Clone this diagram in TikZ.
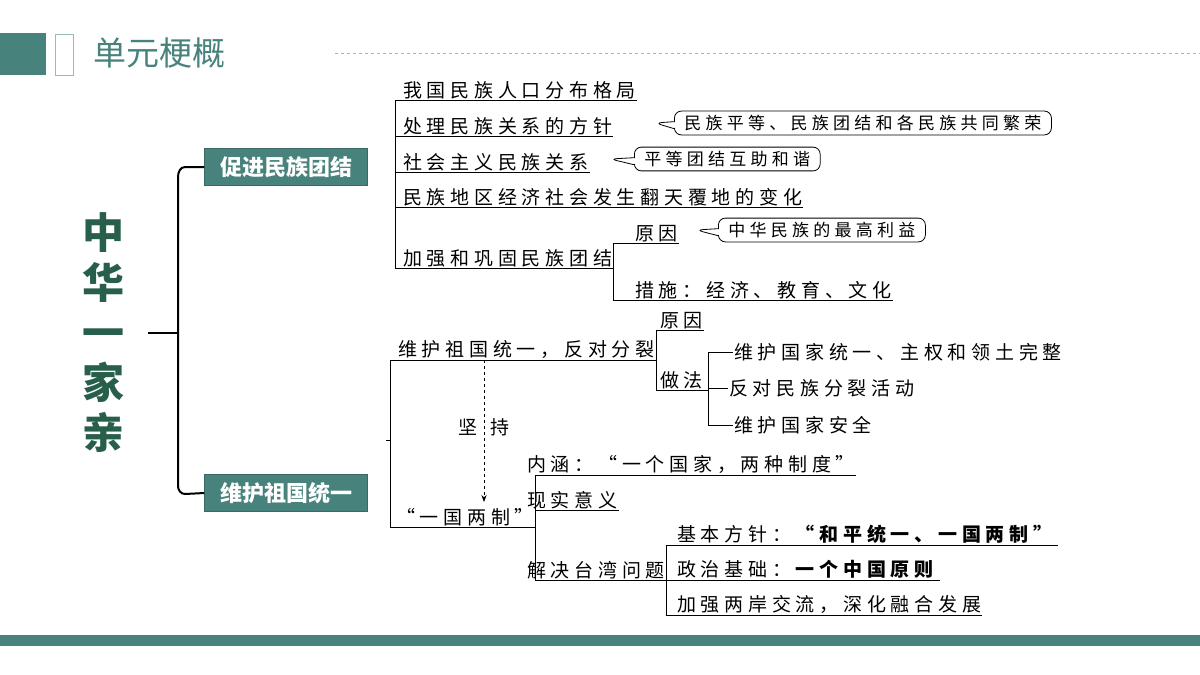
\documentclass[tikz,border=0pt]{standalone}
\usepackage{fontspec}
\setmainfont{Noto Sans CJK SC}[LetterSpace=25]
\newfontfamily\titlefont{Noto Sans CJK SC}
\definecolor{colteal}{RGB}{72,130,124}
\definecolor{coldark}{RGB}{40,95,75}
\definecolor{colline}{RGB}{150,190,185}
\usetikzlibrary{
	arrows.meta,
	positioning,
	shapes.callouts
}
\tikzset{
	x=1pt, y=-1pt,
	item/.style={anchor=south west, inner sep=1pt, font=\fontsize{19}{21}\selectfont},
	topicbox/.style={fill=colteal, draw=colteal!80!black, text=white, minimum width=163pt, minimum height=37pt, font=\titlefont\fontsize{22}{24}\selectfont\bfseries},
	bubble/.style={rectangle callout, draw, thick, rounded corners=7pt, inner xsep=10pt, inner ysep=4pt, font=\fontsize{17}{19}\selectfont},
	treeline/.style={thick},
	brace/.style={line width=2pt}
}
\begin{document}
\begin{tikzpicture}
	\useasboundingbox (0,0) rectangle (1200,675);

	% header
	\fill[colteal] (0,33) rectangle (46,75);
	\draw[colline, thick] (55,34) rectangle (73,75);
	\node[text=colteal, font=\titlefont\fontsize{33}{35}\selectfont, anchor=west] (title) at (90,53) {单元梗概};
	\draw[colline, dashed] (335,53) -- (1200,53);
	\fill[colteal] (0,635) rectangle (1200,646);

	% left part
	\node[text=coldark, font=\titlefont\fontsize{42}{50}\selectfont\bfseries, align=center] (theme) at (103,333) {中\\华\\一\\家\\亲};
	\node[topicbox] (unity) at (286,167) {促进民族团结};
	\node[topicbox] (nation) at (286,493) {维护祖国统一};
	\coordinate (bracemid) at (148,333);
	\draw[brace] (unity.west) -- (185,167) to[out=180,in=90] (178,177) -- (178,486) to[out=-90,in=180] (185,494) -- (nation.west);
	\draw[brace] (bracemid) -- (178,333);

	% upper tree
	\node[item] (a1) at (402,100) {我国民族人口分布格局};
	\node[item] (a2) at (402,136) {处理民族关系的方针};
	\node[item] (a3) at (402,172) {社会主义民族关系};
	\node[item] (a4) at (402,207) {民族地区经济社会发生翻天覆地的变化};
	\node[item] (a5) at (402,268) {加强和巩固民族团结};
	\node[item] (a51) at (634,243) {原因};
	\node[item] (a52) at (634,300) {措施：经济、教育、文化};
	\draw[treeline] (395,100) -- (395,268);
	\foreach \n in {a1,a2,a3,a4,a5}
		\draw[treeline] (395,0|-\n.south) -- (\n.south east);
	\draw[treeline] (a5.south east) -- (a5.south east|-a51.south) -- (a51.south east);
	\draw[treeline] (a5.south east) -- (a5.south east|-a52.south) -- (a52.south east);
	\node[bubble, anchor=west, callout absolute pointer={(655,123)}] (b1) at (674,123) {民族平等、民族团结和各民族共同繁荣};
	\node[bubble, anchor=west, callout absolute pointer={(610,159)}] (b2) at (634,159) {平等团结互助和谐};
	\node[bubble, anchor=west, callout absolute pointer={(696,230)}] (b3) at (718,230) {中华民族的最高利益};

	% lower tree
	\node[item] (c1) at (397,360) {维护祖国统一，反对分裂};
	\node[item] (c11) at (659,330) {原因};
	\node[item] (c12) at (659,390) {做法};
	\node[item, anchor=west] (d1) at (733,352) {维护国家统一、主权和领土完整};
	\node[item, anchor=west] (d2) at (728,388) {反对民族分裂活动};
	\node[item, anchor=west] (d3) at (733,425) {维护国家安全};
	\node[item] (c2) at (395,527) {“一国两制”};
	\node[item] (c21) at (526,475) {内涵：“一个国家，两种制度”};
	\node[item] (c22) at (526,510) {现实意义};
	\node[item] (c23) at (526,580) {解决台湾问题};
	\node[item] (e1) at (676,545) {基本方针：\textbf{“和平统一、一国两制”}};
	\node[item] (e2) at (676,580) {政治基础：\textbf{一个中国原则}};
	\node[item] (e3) at (676,615) {加强两岸交流，深化融合发展};
	\draw[treeline] (390,0|-c1.south) -- (c1.south east) -- (c1.south east|-c11.south) -- (c11.south east);
	\draw[treeline] (c1.south east) -- (c1.south east|-c12.south) -- (c12.south east);
	\draw[treeline] (390,0|-c1.south) -- (390,0|-c2.south) -- (c2.south east);
	\draw[treeline] (386,440) -- (390,440);
	\draw[treeline] (c12.south east) -- (708,390);
	\draw[treeline] (d1.west) -- (708,352) -- (708,425) -- (d3.west);
	\draw[treeline] (708,388) -- (d2.west);
	\draw[treeline] (c2.south east|-c21.south) -- (c21.south east);
	\draw[treeline] (c2.south east|-c21.south) -- (c2.south east|-c23.south);
	\draw[treeline] (c2.south east|-c22.south) -- (c22.south east);
	\draw[treeline] (c2.south east|-c23.south) -- (c23.south east);
	\draw[treeline] (c23.south east|-e1.south) -- (e1.south east);
	\draw[treeline] (c23.south east|-e1.south) -- (c23.south east|-e3.south) -- (e3.south east);
	\draw[treeline] (c23.south east|-e2.south) -- (e2.south east);
	\coordinate (keepend) at (484,502);
	\draw[thick, dashed, -{Stealth[length=7pt]}] (484,0|-c1.south) -- (keepend);
	\node[font=\fontsize{19}{21}\selectfont, inner sep=1pt] (keep) at (484,427) {坚\hspace{14pt}持};
\end{tikzpicture}
\end{document}
